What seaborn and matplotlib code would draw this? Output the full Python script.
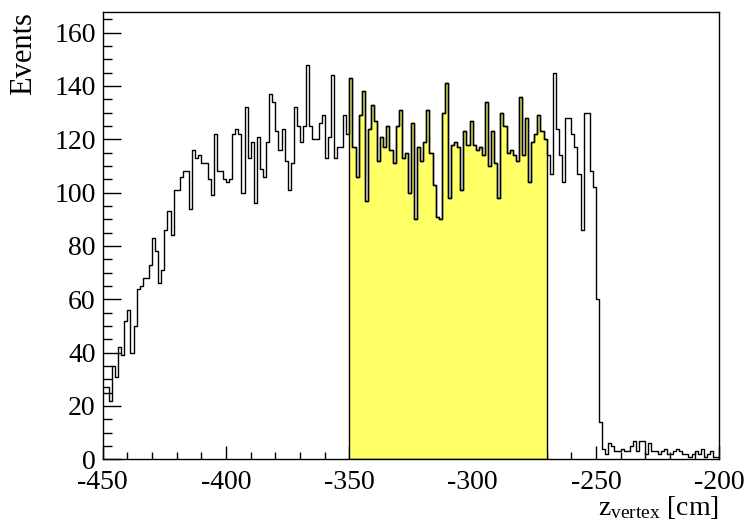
import numpy as np
import pandas as pd
import matplotlib
matplotlib.use("Agg")
import matplotlib.pyplot as plt
import seaborn as sns
from matplotlib.ticker import MultipleLocator

# ---- binning of the histogram (ROOT TH1: 200 bins from -450 to -200 cm) ----
x_min, x_max, n_bins = -450.0, -200.0, 200
sel_low, sel_high = -350.0, -270.0   # highlighted (yellow) selection window
y_max = 167.6

# ---- bin contents ----
# bins from -450 to -350 cm
counts_pre = [27, 27, 22, 35, 31, 42, 39, 52, 56, 40,
              50, 64, 65, 68, 68, 73, 83, 78, 66, 71,
              86, 93, 84, 101, 101, 106, 108, 108, 94, 116,
              113, 114, 111, 111, 105, 99, 122, 108, 108, 105,
              104, 105, 122, 124, 122, 100, 132, 113, 119, 96,
              121, 109, 106, 119, 137, 134, 123, 116, 124, 112,
              101, 111, 132, 125, 119, 125, 148, 125, 120, 120,
              126, 129, 113, 121, 144, 113, 117, 117, 129, 122]
# bins from -350 to -270 cm (selected window)
counts_sel = [143, 117, 106, 129, 138, 97, 124, 133, 127, 112,
              121, 117, 125, 116, 111, 125, 131, 113, 115, 100,
              126, 90, 117, 112, 119, 131, 115, 103, 91, 90,
              130, 141, 98, 118, 119, 117, 101, 123, 118, 127,
              118, 116, 117, 114, 134, 110, 123, 111, 98, 130,
              125, 115, 116, 114, 112, 136, 114, 128, 104, 119,
              122, 129, 123, 120]
# bins from -270 to -200 cm
counts_post = [114, 107, 145, 124, 114, 104, 128, 128, 122, 117,
               107, 86, 130, 130, 108, 102, 60, 14,
               4, 2, 6, 5, 3, 3, 4, 3, 3, 5,
               7, 3, 7, 7, 2, 6, 3, 3, 2, 3,
               4, 2, 2, 3, 4, 3, 2, 2, 1, 2,
               3, 2, 4, 1, 2, 3, 1, 1]

x_ticks = [-450, -400, -350, -300, -250, -200]
y_ticks = [0, 20, 40, 60, 80, 100, 120, 140, 160]
x_label = r"$\mathrm{z}_{\mathrm{vertex}}$ [cm]"
y_label = "Events"

counts = counts_pre + counts_sel + counts_post
edges = np.linspace(x_min, x_max, n_bins + 1)
centers = 0.5 * (edges[:-1] + edges[1:])
df = pd.DataFrame({"z": centers, "n": counts})
df["sel"] = (df["z"] > sel_low) & (df["z"] < sel_high)
sel_edges = [float(e) for e in edges if sel_low - 1e-9 <= e <= sel_high + 1e-9]
all_edges = [float(e) for e in edges]

sns.set_theme(style="white")
plt.rcParams["font.family"] = ["Liberation Serif", "DejaVu Serif"]
plt.rcParams["mathtext.fontset"] = "custom"
plt.rcParams["mathtext.rm"] = "Liberation Serif"
plt.rcParams["mathtext.it"] = "Liberation Serif:italic"

fig = plt.figure(figsize=(7.49, 5.31), dpi=100)
fig.patch.set_facecolor("white")
ax = fig.add_axes([102.7 / 749, 1 - 459.3 / 531, (719.3 - 102.7) / 749, (459.3 - 12.3) / 531])
ax.set_facecolor("white")

sns.histplot(data=df[df["sel"]], x="z", weights="n", bins=sel_edges,
             element="step", fill=True, color="#ffff66", alpha=1.0,
             edgecolor="black", linewidth=1.0, ax=ax)
sns.histplot(data=df, x="z", weights="n", bins=all_edges,
             element="step", fill=False, color="black", linewidth=1.0, ax=ax)

ax.set_xlim(x_min, x_max)
ax.set_ylim(0, y_max)
ax.set_xticks(x_ticks)
ax.set_xticklabels([str(t) for t in x_ticks])
ax.set_yticks(y_ticks)
ax.set_yticklabels([str(t) for t in y_ticks])
ax.xaxis.set_minor_locator(MultipleLocator(10))
ax.yaxis.set_minor_locator(MultipleLocator(5))

ax.tick_params(axis="both", which="both", direction="in", colors="black",
               top=False, right=False, bottom=True, left=True, width=1.0,
               labelsize=20)
ax.tick_params(axis="x", which="major", length=9.4, pad=8)
ax.tick_params(axis="x", which="minor", length=5)
ax.tick_params(axis="y", which="major", length=13, pad=5)
ax.tick_params(axis="y", which="minor", length=6.5)

for s in ax.spines.values():
    s.set_color("black")
    s.set_linewidth(1.0)
ax.grid(False)

ax.set_xlabel(x_label, fontsize=20, loc="right", labelpad=-1, color="black")
ax.set_ylabel(y_label, fontsize=22, loc="top", labelpad=12, color="black")

fig.savefig("out.png", dpi=100, facecolor="white")
